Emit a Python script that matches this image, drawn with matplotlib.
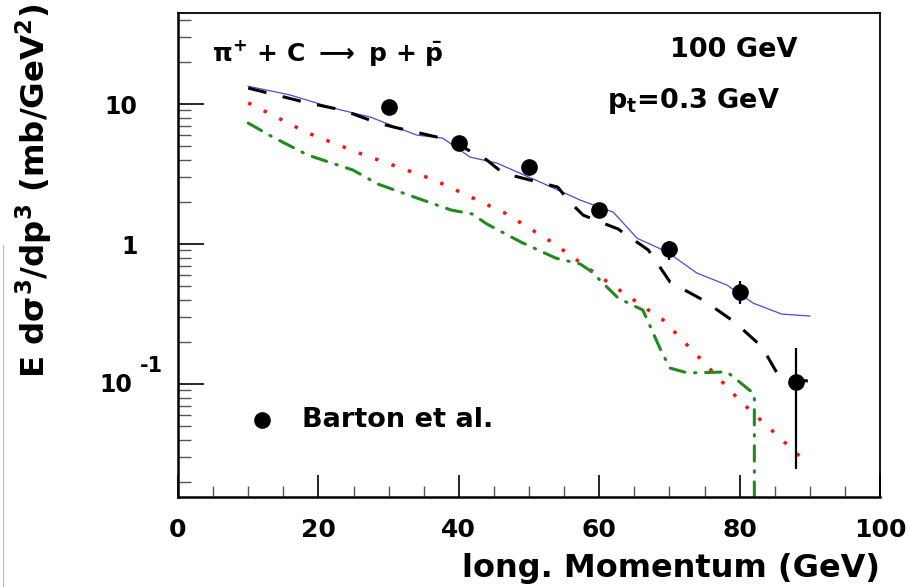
import matplotlib
matplotlib.use("Agg")
import matplotlib.pyplot as plt
from matplotlib.lines import Line2D
from matplotlib.ticker import FixedLocator, NullFormatter, MultipleLocator
import numpy as np

plt.rcParams['font.family'] = ['DejaVu Sans']
plt.rcParams['font.weight'] = 'bold'
plt.rcParams['mathtext.fontset'] = 'custom'
plt.rcParams['mathtext.rm'] = 'DejaVu Sans:bold'
plt.rcParams['mathtext.bf'] = 'DejaVu Sans:bold'
plt.rcParams['mathtext.it'] = 'DejaVu Sans:bold'
plt.rcParams['mathtext.sf'] = 'DejaVu Sans:bold'
plt.rcParams['lines.scale_dashes'] = False

# ---- data ----
barton_x = [30, 40, 50, 60, 70, 80, 88]
barton_y = [9.5, 5.3, 3.55, 1.75, 0.92, 0.455, 0.103]
barton_lo = [9.0, 5.0, 3.35, 1.58, 0.77, 0.373, 0.0247]
barton_hi = [10.0, 5.6, 3.75, 1.93, 1.05, 0.544, 0.181]

blue_x = [10.0, 16.0, 22.1, 27.4, 34.0, 37.7, 41.6, 45.4, 51.6, 57.3, 62.0,
          65.4, 69.7, 73.9, 78.2, 81.9, 86.0, 90.0]
blue_y = [13.4, 11.6, 9.36, 8.07, 6.0, 5.71, 4.18, 3.79, 2.77, 2.06, 1.69,
          1.10, 0.877, 0.621, 0.509, 0.379, 0.316, 0.306]

black_x = [10.0, 18.1, 23.4, 28.5, 31.3, 36.9, 38.7, 44.0, 46.3, 54.1, 55.8,
           57.7, 60.1, 62.7, 67.0, 70.1, 74.8, 79.3, 83.2, 85.8, 90.0]
black_y = [13.0, 10.3, 9.06, 7.31, 6.74, 5.81, 5.53, 3.98, 3.21, 2.55, 2.0,
           1.61, 1.44, 1.28, 0.906, 0.535, 0.398, 0.277, 0.184, 0.109, 0.105]

red_x = [10.0, 18.5, 26.2, 36.5, 46.6, 53.4, 60.0, 66.8, 69.1, 74.6, 80.1, 89.9]
red_y = [10.2, 6.21, 4.39, 2.87, 1.66, 1.02, 0.59, 0.343, 0.287, 0.148,
         0.0756, 0.0264]

green_x = [10.0, 13.5, 18.5, 23.6, 24.9, 28.5, 33.6, 38.9, 41.9, 44.0, 48.9,
           53.8, 57.3, 58.8, 62.7, 66.2, 66.8, 68.9, 70.1, 72.6, 78.2, 82.1, 82.1]
green_y = [7.31, 5.81, 4.32, 3.55, 3.38, 2.68, 2.17, 1.75, 1.64, 1.39, 1.03,
           0.794, 0.72, 0.641, 0.411, 0.338, 0.291, 0.169, 0.13, 0.12, 0.122,
           0.0849, 1e-4]

xticks_major = [0, 20, 40, 60, 80, 100]
yticks_major = [0.1, 1, 10]
ytick_labels = ['', '1', '10']

# ---- figure ----
fig = plt.figure(figsize=(9.09, 5.87), dpi=100)
ax = fig.add_axes([178/909, 1-497/587, (880-178)/909, (497-13)/587])
ax.set_yscale('log')
ax.set_xlim(0, 100)
ax.set_ylim(0.0156, 44.7)

ax.plot(blue_x, blue_y, color='#4a4ad8', lw=0.9)
ax.plot(black_x, black_y, color='black', lw=2.2, dashes=(13.5, 12.0))
ax.plot(red_x, red_y, color='#ff1010', lw=2.5, dashes=(2.5, 10.0))
ax.plot(green_x, green_y, color='#1f8a1f', lw=2.2,
        dashes=(11.0, 7.0, 1.0, 7.0), dash_capstyle='round')

yerr = [np.array(barton_y) - np.array(barton_lo),
        np.array(barton_hi) - np.array(barton_y)]
ax.errorbar(barton_x, barton_y, yerr=yerr, fmt='o', color='black',
            markersize=11, elinewidth=1.6, capsize=0, zorder=5)

# ticks
ax.xaxis.set_major_locator(FixedLocator(xticks_major))
ax.xaxis.set_minor_locator(MultipleLocator(5))
ax.yaxis.set_major_locator(FixedLocator(yticks_major))
ax.set_yticklabels(ytick_labels)
minors = [m * 10.0**e for e in (-2, -1, 0, 1) for m in range(2, 10)]
ax.yaxis.set_minor_locator(FixedLocator(minors))
ax.yaxis.set_minor_formatter(NullFormatter())
ax.tick_params(axis='both', which='both', direction='in', top=False, right=False)
ax.tick_params(axis='x', which='major', length=16, width=1.2, labelsize=18, pad=15)
ax.tick_params(axis='x', which='minor', length=8, width=1.0, color='#555555')
ax.tick_params(axis='y', which='major', length=19, width=1.2, labelsize=17, pad=29)
ax.tick_params(axis='y', which='minor', length=9.5, width=1.0, color='#555555')
for lab in ax.get_xticklabels() + ax.get_yticklabels():
    lab.set_fontweight('bold')

# 10^-1 label drawn ROOT-style: base and raised exponent
ax.annotate('10', xy=(0, 0.1), xycoords=('axes fraction', 'data'),
            xytext=(-33, -1), textcoords='offset points', ha='right',
            va='center', fontsize=17, fontweight='bold', annotation_clip=False)
ax.annotate('-1', xy=(0, 0.1), xycoords=('axes fraction', 'data'),
            xytext=(-27.5, 13), textcoords='offset points', ha='left',
            va='center', fontsize=15, fontweight='bold', annotation_clip=False)

for s in ['left', 'bottom']:
    ax.spines[s].set_linewidth(1.8)
for s in ['top', 'right']:
    ax.spines[s].set_linewidth(1.3)

ax.set_xlabel('long. Momentum (GeV)', fontsize=23, fontweight='bold',
              loc='right', labelpad=8)
ax.set_ylabel(r'E d$\sigma^{3}$/dp$^{3}$ (mb/GeV$^{2}$)', fontsize=23.3,
              fontweight='bold', loc='top')
ax.yaxis.set_label_coords(-0.175, 1.02)

ax.text(0.048, 0.917, r'$\pi^{+}$ + C $\longrightarrow$ p + $\bar{\mathrm{p}}$',
        transform=ax.transAxes, fontsize=18, fontweight='bold', va='center')
ax.text(0.701, 0.924, '100 GeV', transform=ax.transAxes, fontsize=19.5,
        fontweight='bold', va='center')
ax.text(0.611, 0.818, r'p$_{\mathrm{t}}$=0.3 GeV', transform=ax.transAxes,
        fontsize=19.5, fontweight='bold', va='center')

# legend
ax.plot([0.12], [0.159], marker='o', color='black', markersize=11,
        transform=ax.transAxes, linestyle='none')
ax.text(0.177, 0.159, 'Barton et al.', transform=ax.transAxes, fontsize=19.5,
        fontweight='bold', va='center')

fig.add_artist(Line2D([3/909, 3/909], [0, 1-245/587], color='#bbbbbb', lw=0.8))

fig.savefig('out.png', dpi=100)
